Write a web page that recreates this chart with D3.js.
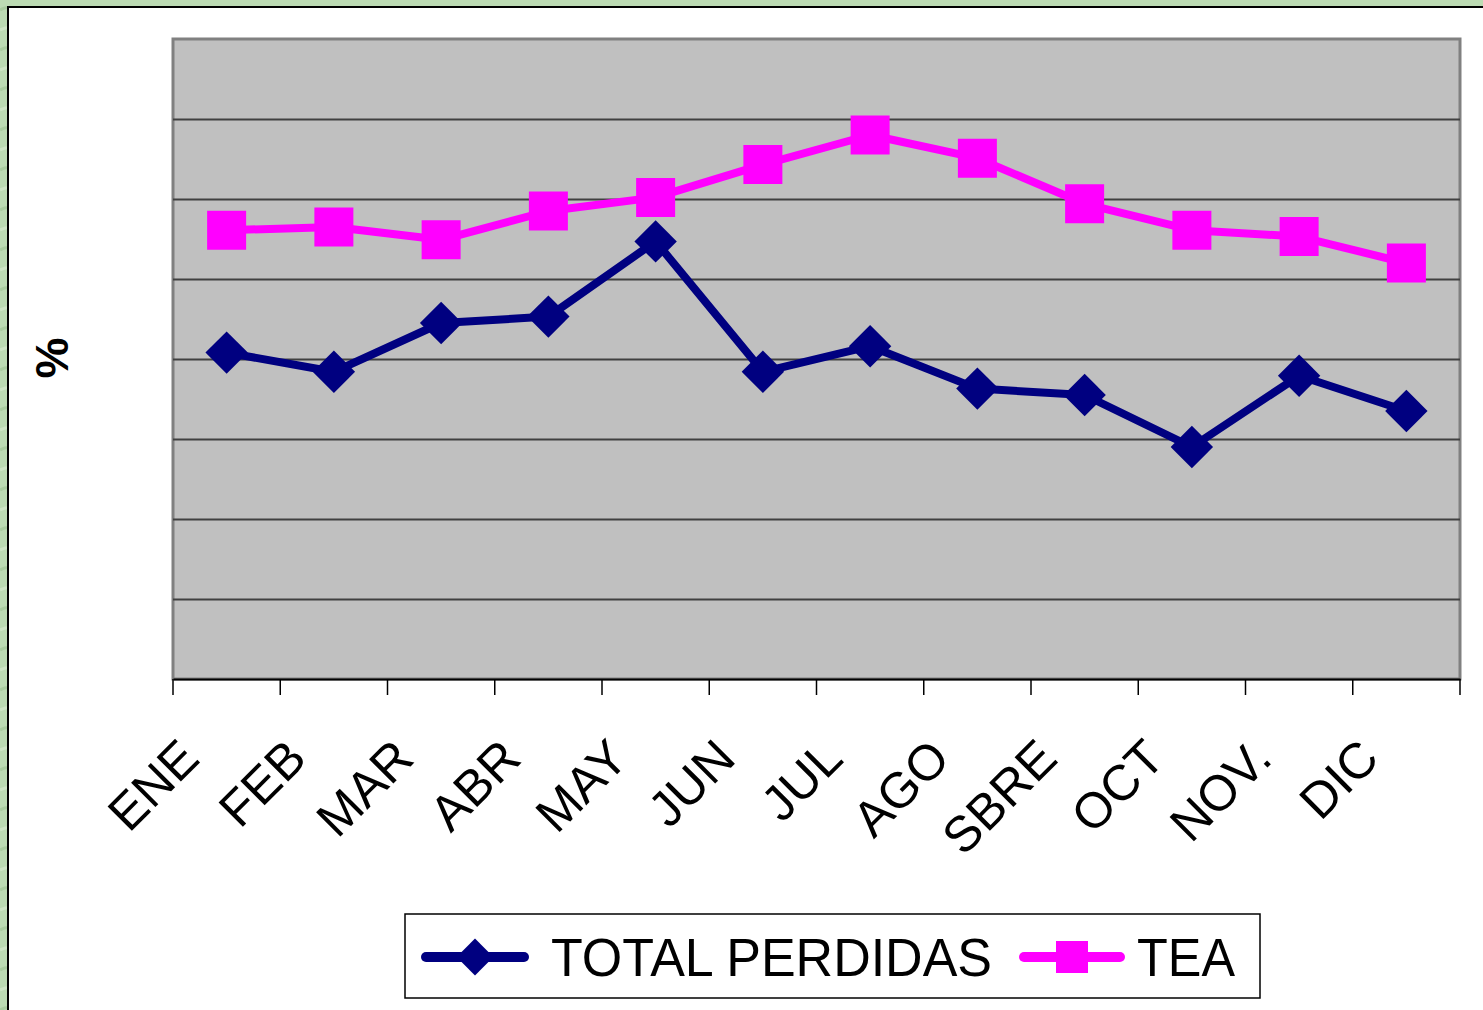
<!DOCTYPE html>
<html>
<head>
<meta charset="utf-8">
<script src="https://cdn.jsdelivr.net/npm/d3@7"></script>
<style>
  html, body { margin: 0; padding: 0; background: #b9d9b1; }
  svg { display: block; }
  text { font-family: 'Liberation Sans', Arial, sans-serif; }
</style>
</head>
<body>
<svg width="1483" height="1010"></svg>
<script>
const months = ['ENE', 'FEB', 'MAR', 'ABR', 'MAY', 'JUN', 'JUL', 'AGO', 'SBRE', 'OCT', 'NOV.', 'DIC']
const totalPerdidas = [4.08, 3.84, 4.45, 4.53, 5.47, 3.84, 4.16, 3.63, 3.55, 2.90, 3.79, 3.35]
const tea = [5.61, 5.65, 5.49, 5.85, 6.02, 6.43, 6.80, 6.51, 5.94, 5.61, 5.53, 5.20]
const gridTicks = [1, 2, 3, 4, 5, 6, 7]

const svg = d3.select('svg')
const width = 1483
const height = 1010
const plot = {left: 173, top: 39, right: 1460, bottom: 679}

// green textured backdrop
const defs = svg.append('defs')
const pat = defs.append('pattern')
  .attr('id', 'bg').attr('width', 40).attr('height', 40)
  .attr('patternUnits', 'userSpaceOnUse')
pat.append('rect').attr('width', 40).attr('height', 40).attr('fill', '#bcdbb3')
pat.append('path').attr('d', 'M0 10 Q10 4 20 12 T40 8').attr('stroke', '#a9cc9f').attr('fill', 'none').attr('stroke-width', 3)
pat.append('path').attr('d', 'M0 30 Q12 24 22 32 T40 28').attr('stroke', '#cfe6c6').attr('fill', 'none').attr('stroke-width', 3)
svg.append('rect').attr('width', width).attr('height', height).attr('fill', 'url(#bg)')

// white panel
svg.append('rect')
  .attr('x', 8).attr('y', 7)
  .attr('width', width).attr('height', height)
  .attr('fill', '#fff').attr('stroke', '#000').attr('stroke-width', 2)

const x = d3.scaleBand().domain(months).range([plot.left, plot.right])
const y = d3.scaleLinear().domain([0, 8]).range([plot.bottom, plot.top])

// plot area
svg.append('rect')
  .attr('x', plot.left).attr('y', plot.top)
  .attr('width', plot.right - plot.left).attr('height', plot.bottom - plot.top)
  .attr('fill', '#c0c0c0').attr('stroke', '#808080').attr('stroke-width', 3)

// gridlines
const grid = svg.append('g')
  .attr('transform', `translate(${plot.left},0)`)
  .call(d3.axisLeft(y).tickValues(gridTicks).tickSize(-(plot.right - plot.left)).tickFormat(''))
grid.select('.domain').remove()
grid.selectAll('.tick line').attr('stroke', '#404040').attr('stroke-width', 2)

// x axis
const xAxis = svg.append('g')
  .attr('transform', `translate(0,${plot.bottom})`)
  .call(d3.axisBottom(x).tickSize(0).tickFormat(''))
xAxis.select('.domain').attr('stroke', '#000').attr('stroke-width', 2)

const edges = months.map(m => x(m)).concat([x(months[months.length - 1]) + x.bandwidth()])
svg.append('g').selectAll('line').data(edges).join('line')
  .attr('x1', d => d).attr('x2', d => d)
  .attr('y1', plot.bottom).attr('y2', plot.bottom + 16)
  .attr('stroke', '#000').attr('stroke-width', 1.5)

svg.append('g').selectAll('text').data(months).join('text')
  .attr('transform', d => `translate(${x(d) + x.bandwidth() / 2 - 25},${plot.bottom + 82}) rotate(-45)`)
  .attr('text-anchor', 'end')
  .attr('font-size', 50)
  .attr('fill', '#000')
  .text(d => d)

// y label
svg.append('text')
  .attr('transform', 'translate(68,358) rotate(-90)')
  .attr('text-anchor', 'middle')
  .attr('font-size', 46)
  .attr('font-weight', 'bold')
  .text('%')

// series
const line = d3.line()
  .x((d, i) => x(months[i]) + x.bandwidth() / 2)
  .y(d => y(d))

svg.append('path').datum(totalPerdidas)
  .attr('d', line).attr('fill', 'none')
  .attr('stroke', '#000080').attr('stroke-width', 8).attr('stroke-linejoin', 'round')
svg.append('path').datum(tea)
  .attr('d', line).attr('fill', 'none')
  .attr('stroke', '#ff00ff').attr('stroke-width', 8).attr('stroke-linejoin', 'round')

const diamond = d3.symbol().type(d3.symbolSquare).size(30 * 30)
const square = d3.symbol().type(d3.symbolSquare).size(39 * 39)

svg.append('g').selectAll('path').data(totalPerdidas).join('path')
  .attr('d', diamond)
  .attr('transform', (d, i) => `translate(${x(months[i]) + x.bandwidth() / 2},${y(d)}) rotate(45)`)
  .attr('fill', '#000080')
svg.append('g').selectAll('path').data(tea).join('path')
  .attr('d', square)
  .attr('transform', (d, i) => `translate(${x(months[i]) + x.bandwidth() / 2},${y(d)})`)
  .attr('fill', '#ff00ff')

// legend
const legend = svg.append('g')
legend.append('rect')
  .attr('x', 405).attr('y', 914).attr('width', 855).attr('height', 84)
  .attr('fill', '#fff').attr('stroke', '#000').attr('stroke-width', 1.5)
legend.append('line')
  .attr('x1', 426).attr('x2', 524).attr('y1', 957).attr('y2', 957)
  .attr('stroke', '#000080').attr('stroke-width', 10).attr('stroke-linecap', 'round')
legend.append('path').attr('d', d3.symbol().type(d3.symbolSquare).size(26 * 26))
  .attr('transform', 'translate(475,957) rotate(45)').attr('fill', '#000080')
legend.append('text')
  .attr('x', 551).attr('y', 976)
  .attr('font-size', 54)
  .attr('textLength', 441).attr('lengthAdjust', 'spacingAndGlyphs')
  .text('TOTAL PERDIDAS')
legend.append('line')
  .attr('x1', 1024).attr('x2', 1120).attr('y1', 957).attr('y2', 957)
  .attr('stroke', '#ff00ff').attr('stroke-width', 10).attr('stroke-linecap', 'round')
legend.append('path').attr('d', d3.symbol().type(d3.symbolSquare).size(32 * 32))
  .attr('transform', 'translate(1072,957)').attr('fill', '#ff00ff')
legend.append('text')
  .attr('x', 1137).attr('y', 976)
  .attr('font-size', 54)
  .attr('textLength', 98).attr('lengthAdjust', 'spacingAndGlyphs')
  .text('TEA')
</script>
</body>
</html>
